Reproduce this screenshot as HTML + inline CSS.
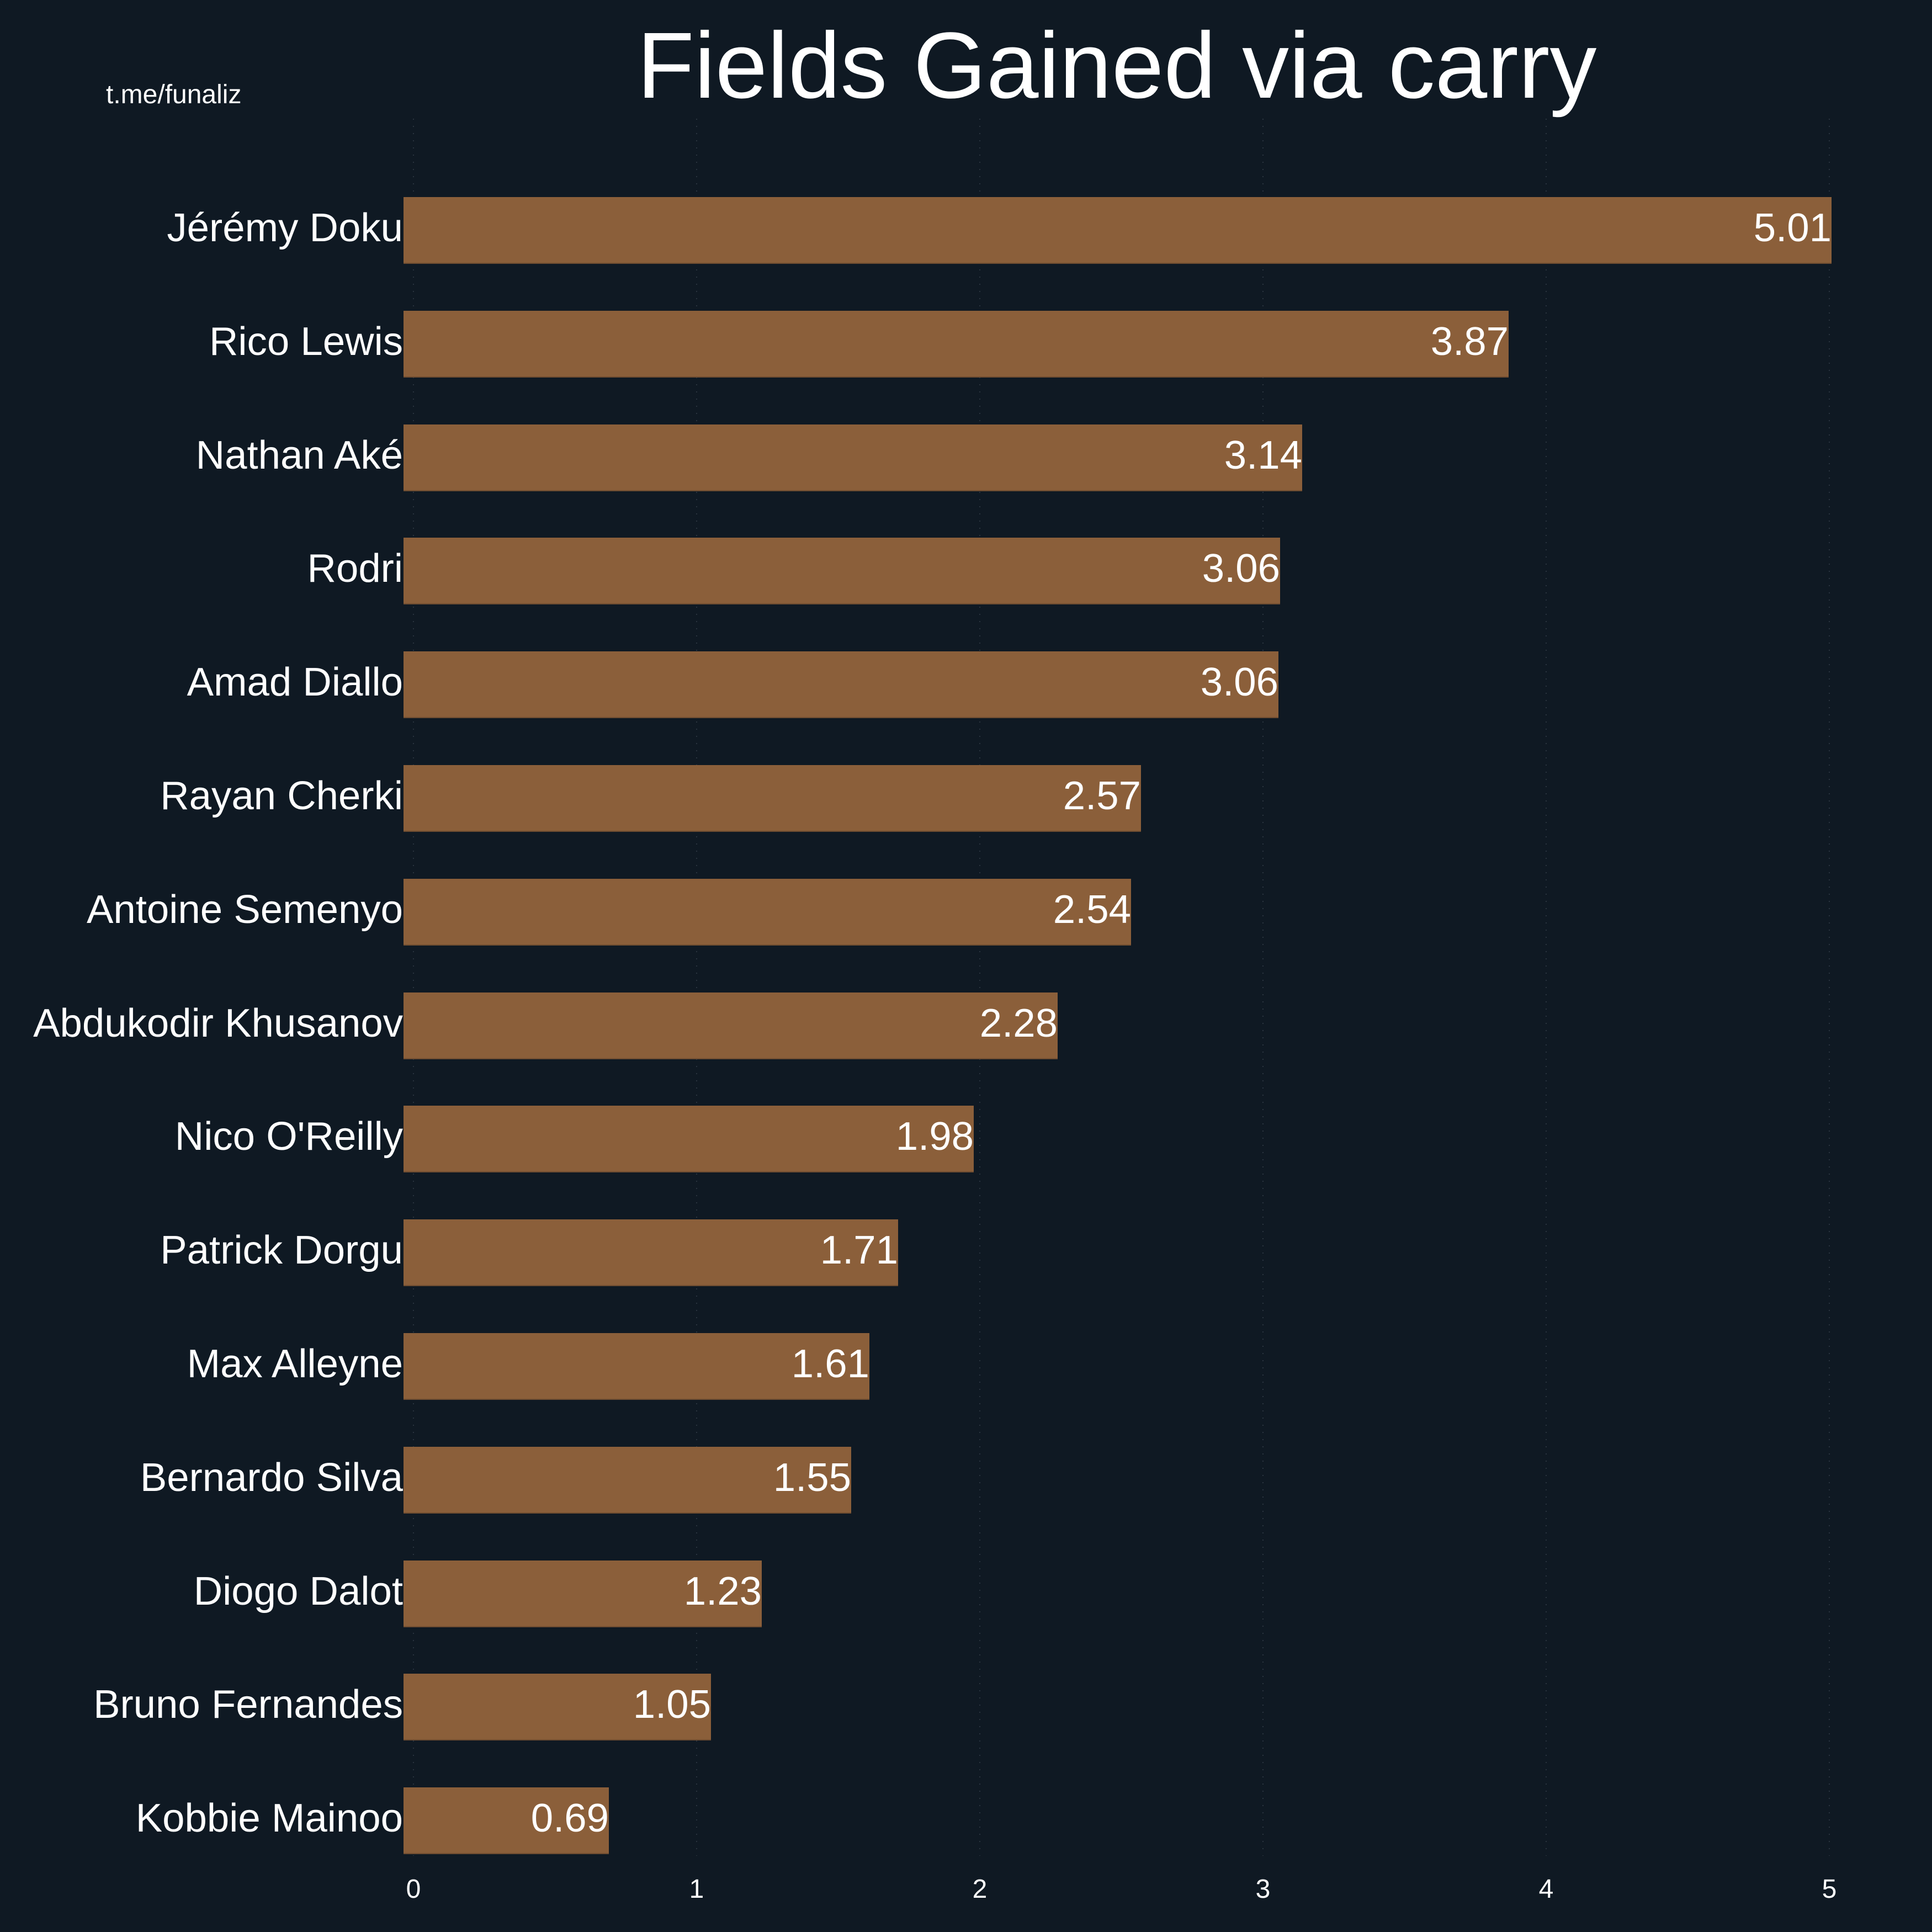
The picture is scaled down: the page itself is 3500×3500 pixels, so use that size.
<!DOCTYPE html>
<html>
<head>
<meta charset="utf-8">
<style>
html,body{margin:0;padding:0;background:#0f1923;}
svg{display:block;}
text{font-family:"Liberation Sans",Arial,sans-serif;fill:#ffffff;}
</style>
</head>
<body>
<svg width="3500" height="3500" viewBox="0 0 3500 3500" xmlns="http://www.w3.org/2000/svg">
<rect x="0" y="0" width="3500" height="3500" fill="#0f1923"/>

<!-- gridlines -->
<g stroke="#2a343f" stroke-width="2" stroke-dasharray="2 11">
<line x1="749" y1="215" x2="749" y2="3362"/>
<line x1="1262" y1="215" x2="1262" y2="3362"/>
<line x1="1775" y1="215" x2="1775" y2="3362"/>
<line x1="2288" y1="215" x2="2288" y2="3362"/>
<line x1="2801" y1="215" x2="2801" y2="3362"/>
<line x1="3314" y1="215" x2="3314" y2="3362"/>
</g>

<!-- title & credit -->
<text x="1154" y="177" font-size="170">Fields Gained via carry</text>
<text x="192" y="187" font-size="48">t.me/funaliz</text>

<!-- bars -->
<g fill="#8b5f3a">
<rect x="731" y="357" width="2587" height="121"/>
<rect x="731" y="563" width="2002" height="121"/>
<rect x="731" y="769" width="1628" height="121"/>
<rect x="731" y="974" width="1588" height="121"/>
<rect x="731" y="1180" width="1585" height="121"/>
<rect x="731" y="1386" width="1336" height="121"/>
<rect x="731" y="1592" width="1318" height="121"/>
<rect x="731" y="1798" width="1185" height="121"/>
<rect x="731" y="2003" width="1033" height="121"/>
<rect x="731" y="2209" width="896" height="121"/>
<rect x="731" y="2415" width="844" height="121"/>
<rect x="731" y="2621" width="811" height="121"/>
<rect x="731" y="2827" width="649" height="121"/>
<rect x="731" y="3032" width="557" height="121"/>
<rect x="731" y="3238" width="372" height="121"/>
</g>
<!-- bar bottom edges -->
<g fill="#6f4d31">
<rect x="731" y="476" width="2587" height="2"/>
<rect x="731" y="682" width="2002" height="2"/>
<rect x="731" y="888" width="1628" height="2"/>
<rect x="731" y="1093" width="1588" height="2"/>
<rect x="731" y="1299" width="1585" height="2"/>
<rect x="731" y="1505" width="1336" height="2"/>
<rect x="731" y="1711" width="1318" height="2"/>
<rect x="731" y="1917" width="1185" height="2"/>
<rect x="731" y="2122" width="1033" height="2"/>
<rect x="731" y="2328" width="896" height="2"/>
<rect x="731" y="2534" width="844" height="2"/>
<rect x="731" y="2740" width="811" height="2"/>
<rect x="731" y="2946" width="649" height="2"/>
<rect x="731" y="3151" width="557" height="2"/>
<rect x="731" y="3357" width="372" height="2"/>
</g>

<!-- player names -->
<g font-size="72.6" text-anchor="end">
<text x="730" y="437">Jérémy Doku</text>
<text x="730" y="643">Rico Lewis</text>
<text x="730" y="849">Nathan Aké</text>
<text x="730" y="1054">Rodri</text>
<text x="730" y="1260">Amad Diallo</text>
<text x="730" y="1466">Rayan Cherki</text>
<text x="730" y="1672">Antoine Semenyo</text>
<text x="730" y="1878">Abdukodir Khusanov</text>
<text x="730" y="2083">Nico O'Reilly</text>
<text x="730" y="2289">Patrick Dorgu</text>
<text x="730" y="2495">Max Alleyne</text>
<text x="730" y="2701">Bernardo Silva</text>
<text x="730" y="2907">Diogo Dalot</text>
<text x="730" y="3112">Bruno Fernandes</text>
<text x="730" y="3318">Kobbie Mainoo</text>
</g>

<!-- values -->
<g font-size="72.6" text-anchor="end">
<text x="3318" y="437">5.01</text>
<text x="2733" y="643">3.87</text>
<text x="2359" y="849">3.14</text>
<text x="2319" y="1054">3.06</text>
<text x="2316" y="1260">3.06</text>
<text x="2067" y="1466">2.57</text>
<text x="2049" y="1672">2.54</text>
<text x="1916" y="1878">2.28</text>
<text x="1764" y="2083">1.98</text>
<text x="1627" y="2289">1.71</text>
<text x="1575" y="2495">1.61</text>
<text x="1542" y="2701">1.55</text>
<text x="1380" y="2907">1.23</text>
<text x="1288" y="3112">1.05</text>
<text x="1103" y="3318">0.69</text>
</g>

<!-- x tick labels -->
<g font-size="48" text-anchor="middle">
<text x="749" y="3438">0</text>
<text x="1262" y="3438">1</text>
<text x="1775" y="3438">2</text>
<text x="2288" y="3438">3</text>
<text x="2801" y="3438">4</text>
<text x="3314" y="3438">5</text>
</g>
</svg>
</body>
</html>
